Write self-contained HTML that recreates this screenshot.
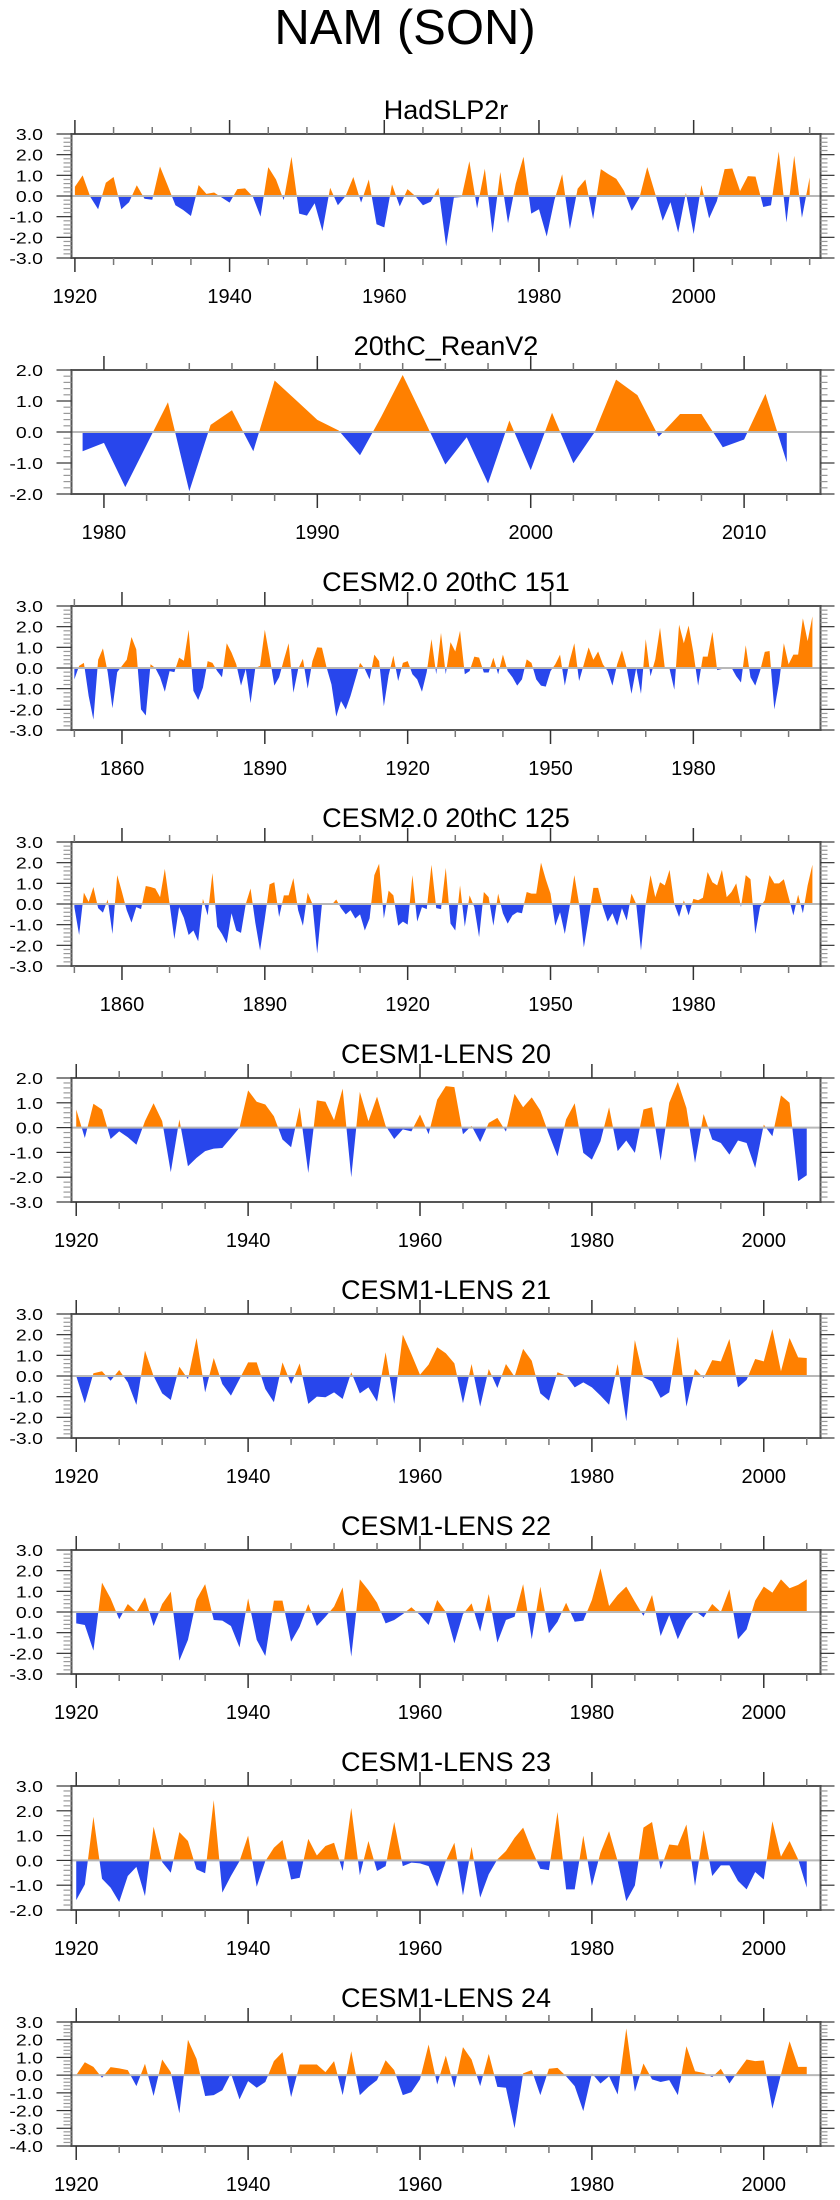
<!DOCTYPE html>
<html><head><meta charset="utf-8"><title>NAM (SON)</title>
<style>
html,body{margin:0;padding:0;background:#fff;}
svg{display:block;font-family:"Liberation Sans",Arial,sans-serif;}
</style></head>
<body>
<svg id="chart" width="840" height="2200" viewBox="0 0 840 2200" xmlns="http://www.w3.org/2000/svg">
<text x="405" y="44" font-size="49" text-anchor="middle" fill="#000">NAM (SON)</text>
</svg>
<script>
const titles = ["HadSLP2r","20thC_ReanV2","CESM2.0 20thC 151","CESM2.0 20thC 125","CESM1-LENS 20","CESM1-LENS 21","CESM1-LENS 22","CESM1-LENS 23","CESM1-LENS 24"];
const startYears = [1920,1979,1850,1850,1920,1920,1920,1920,1920];
const v1 = [0.45,1.0,-0.05,-0.64,0.64,0.92,-0.64,-0.3,0.52,-0.13,-0.18,1.43,0.5,-0.45,-0.68,-0.97,0.53,0.1,0.17,-0.08,-0.32,0.33,0.37,-0.03,-1.0,1.4,0.8,-0.2,1.9,-0.85,-0.95,-0.35,-1.7,0.4,-0.45,0.0,0.92,-0.32,0.8,-1.37,-1.52,0.56,-0.5,0.33,0.0,-0.45,-0.28,0.4,-2.44,-0.08,-0.05,1.68,-0.6,1.32,-1.8,1.16,-1.32,0.6,1.9,-0.85,-0.64,-1.96,-0.2,1.05,-1.6,0.35,0.8,-1.12,1.3,1.05,0.83,0.25,-0.72,-0.08,1.4,0.15,-1.2,-0.3,-1.77,0.15,-1.84,0.53,-1.08,-0.25,1.3,1.33,0.24,0.96,0.94,-0.53,-0.45,2.15,-1.28,1.95,-1.05,0.9];
const v2 = [-0.62,-0.35,-1.78,-0.41,0.96,-1.91,0.23,0.7,-0.62,1.66,1.03,0.39,0.05,-0.75,0.5,1.84,0.41,-1.05,-0.17,-1.66,0.37,-1.23,0.62,-1.01,0.0,1.69,1.19,-0.15,0.58,0.58,-0.49,-0.24,1.23,-0.98];
const v3 = [-0.55,0.1,0.25,-1.35,-2.5,0.4,0.95,-0.2,-1.95,-0.2,0.1,0.4,1.5,0.9,-2.0,-2.3,0.18,0,-0.45,-1.15,-0.15,-0.2,0.5,0.35,1.85,-1.1,-1.55,-0.95,0.33,0.25,-0.15,-0.45,1.2,0.75,0.18,-0.85,-0.05,-1.7,0,0.1,1.85,0.55,-0.85,-0.45,0.4,1.2,-1.2,-0.05,0.45,-1.0,0.33,1.0,0.98,0,-0.8,-2.35,-1.6,-2.0,-1.35,-0.55,0.25,-0.05,-0.55,0.65,0.33,-1.85,-0.35,0.6,-0.63,0.25,0.33,-0.3,-0.55,-1.15,-0.2,1.4,-0.3,1.7,-0.3,1.25,0.8,1.8,-0.3,-0.15,0.55,0.5,-0.22,-0.22,0.5,-0.3,0.65,-0.15,-0.45,-0.85,-0.55,0.42,0.25,-0.55,-0.85,-0.9,-0.15,0.18,0.65,-0.85,0.33,1.2,-0.63,0.18,1.0,0.4,0.8,0.18,-0.15,-0.85,0.18,0.85,0,-1.25,0,-1.25,1.4,-0.4,0.42,1.95,0,-0.05,-1.05,2.1,1.2,2.05,0.75,-0.85,0.55,0.55,1.75,-0.1,-0.05,0.02,0.02,-0.4,-0.7,1.1,-0.45,-0.85,-0.15,0.78,0.82,-2.0,-0.7,1.2,0.18,0.65,0.65,2.4,1.3,2.5];
const v4 = [-0.15,-1.5,0.55,0.1,0.82,-0.2,-0.42,0.22,-1.45,1.4,0.58,-0.3,-0.9,-0.15,-0.25,0.87,0.82,0.75,0.33,1.7,0,-1.7,-0.15,-0.67,-1.5,-1.28,-1.8,0.25,-0.55,1.5,-1.1,-1.45,-1.9,-0.45,-1.28,-1.4,0.0,0.75,-0.9,-2.25,-0.7,0.95,1.05,-0.63,0.42,0.42,1.25,-0.3,-1.05,0.55,0.0,-2.4,0,0.0,-0.05,0.22,-0.2,-0.5,-0.3,-0.7,-0.5,-1.28,-0.7,1.4,1.95,-0.7,0.65,0.42,-1.05,-0.85,-1.0,1.4,-0.85,-0.15,-0.25,1.9,-0.2,-0.25,1.75,-0.95,-1.28,0.9,-1.1,0.42,-0.15,-1.6,0.58,0.33,-1.05,0.5,-0.45,-0.95,-0.55,-0.4,-0.45,0.58,0.5,0.5,2.0,1.2,0.5,-1.05,-0.4,-1.45,-0.15,1.4,0,-2.1,-0.7,0.78,0.78,-0.15,-0.85,-0.45,-1.05,-0.2,-0.8,0.5,0,-2.25,0,1.4,0.33,1.05,0.9,1.65,0,-0.63,0.18,-0.55,0.25,0.18,0.3,1.55,1.05,0.9,1.65,0.33,0.58,1.0,-0.15,1.4,1.2,-1.45,-0.15,0.18,1.4,1.0,1.0,1.2,0.33,-0.55,0.45,-0.45,0.9,1.9];
const v5 = [0.73,-0.42,0.96,0.73,-0.46,-0.15,-0.39,-0.69,0.26,0.98,0.26,-1.8,0.33,-1.56,-1.22,-0.95,-0.85,-0.82,-0.42,0,1.5,1.04,0.93,0.46,-0.48,-0.79,0.82,-1.83,1.1,1.04,0.3,1.57,-2.0,1.44,0.26,1.25,0.07,-0.46,-0.07,-0.15,0.53,-0.27,1.13,1.67,1.63,-0.27,0.07,-0.58,0.19,0.39,-0.16,1.36,0.82,1.22,0.69,-0.27,-1.16,0.33,0.98,-1.02,-1.29,-0.55,0.82,-0.95,-0.52,-1.02,0.73,0.82,-1.33,1.0,1.84,0.79,-1.42,0.55,-0.48,-0.62,-1.09,-0.52,-0.62,-1.63,0.12,-0.35,1.3,1.0,-2.16,-1.92];
const v6 = [0,-1.32,0.13,0.23,-0.23,0.29,-0.31,-1.4,1.23,0,-0.84,-1.16,0.45,-0.15,1.84,-0.79,0.87,-0.39,-0.95,-0.15,0.66,0.66,-0.63,-1.27,0.66,-0.39,0.61,-1.35,-1.0,-1.03,-0.79,-1.11,0.18,-0.84,-0.55,-1.24,1.15,-1.35,2.0,1.06,0.06,0.55,1.39,1.1,0.61,-1.32,0.58,-1.48,0.34,-0.58,0.58,-0.03,1.31,0.74,-0.84,-1.19,0.18,0.02,-0.55,-0.31,-0.55,-0.95,-1.39,0.58,-2.19,1.74,-0.06,-0.26,-1.06,-0.79,1.9,-1.48,0.34,-0.1,0.77,0.71,1.79,-0.55,-0.19,0.82,0.71,2.27,0.23,1.84,0.9,0.87];
const v7 = [-0.55,-0.63,-1.87,1.42,0.66,-0.35,0.39,0,0.71,-0.68,0.39,0.98,-2.35,-1.35,0.61,1.35,-0.39,-0.42,-0.68,-1.71,0.66,-1.35,-2.13,0.55,0.55,-1.44,-0.71,0.39,-0.68,-0.23,0.26,1.19,-2.16,1.58,1.06,0.45,-0.55,-0.39,-0.1,0.23,-0.15,-0.63,0.58,0,-1.52,-0.1,0.42,-0.95,0.87,-1.48,-0.39,-0.23,1.35,-1.32,1.23,-1.03,-0.47,0.45,-0.47,-0.42,0.58,2.11,0.29,0.82,1.23,0.5,-0.19,0.82,-1.16,-0.15,-1.32,-0.42,0.06,-0.26,0.39,0,1.1,-1.32,-0.84,0.55,1.23,0.94,1.58,1.15,1.31,1.58];
const v8 = [-1.6,-0.97,1.76,-0.74,-1.1,-1.68,-0.63,-0.26,-1.44,1.36,-0.07,-0.5,1.14,0.78,-0.36,-0.52,2.43,-1.3,-0.63,-0.03,1.0,-1.06,-0.03,0.51,0.82,-0.77,-0.7,0.87,0.2,0.58,0.71,-0.43,2.12,-0.6,0.78,-0.43,-0.23,1.55,-0.23,-0.09,-0.12,-0.23,-1.06,-0.03,0.71,-1.41,0.55,-1.5,-0.56,0.04,0.38,0.91,1.32,0.44,-0.34,-0.39,1.95,-1.17,-1.17,1.0,-1.03,0.31,1.18,-0.03,-1.64,-1.01,1.32,1.55,-0.36,0.64,0.6,1.45,-1.03,1.22,-0.63,-0.2,-0.2,-0.83,-1.17,-0.47,-0.77,1.58,0.15,0.78,0.04,-1.1];
const v9 = [0,0.73,0.47,-0.15,0.45,0.38,0.28,-0.62,0.64,-1.18,0.88,0.17,-2.16,2.0,0.92,-1.18,-1.13,-0.85,0.1,-1.37,-0.34,-0.71,-0.39,0.79,1.3,-1.24,0.6,0.6,0.6,0.17,0.79,-1.13,1.35,-1.13,-0.66,-0.28,0.84,0.28,-1.13,-0.96,-0.24,1.73,-0.53,1.1,-0.71,1.58,0.88,-0.62,1.2,-0.66,-0.71,-3.0,0.1,0.28,-1.13,0.36,0.41,-0.06,-0.62,-2.03,0.1,-0.47,-0.06,-1.09,2.63,-0.94,0.66,-0.24,-0.39,-0.28,-1.13,1.63,0.22,0.13,-0.11,0.36,-0.47,0.22,0.88,0.79,0.83,-1.9,0.04,1.91,0.47,0.47];
const series = [v1,v2,v3,v4,v5,v6,v7,v8,v9];
const yMins = [-3,-2,-3,-3,-3,-3,-3,-2,-4];
const yMaxs = [3,2,3,3,2,3,3,3,3];

// layout (not data)
const xRanges = [[1919.56,2016.4],[1978.48,2013.58],[1849.4,2006.7],[1849.4,2006.7],[1919.45,2006.6],[1919.45,2006.6],[1919.45,2006.6],[1919.45,2006.6],[1919.45,2006.6]];
const majorStep = [20,10,30,30,20,20,20,20,20];
const minorStep = [5,2,10,10,5,5,5,5,5];
const majorStart = [1920,1980,1860,1860,1920,1920,1920,1920,1920];
const minorStart = [1920,1978,1850,1850,1920,1920,1920,1920,1920];

const NS = "http://www.w3.org/2000/svg";
const svg = document.getElementById('chart');
const L = 71.5, R = 820.5, H = 124;
function mk(tag, attrs, parent){ const e=document.createElementNS(NS,tag); for(const k in attrs) e.setAttribute(k,attrs[k]); (parent||svg).appendChild(e); return e; }

series.forEach((vals, p) => {
  const top = 134 + 236*p, bot = top + H;
  const x0 = xRanges[p][0], x1 = xRanges[p][1];
  const ymin = yMins[p], ymax = yMaxs[p];
  const xs = yr => L + (yr - x0) / (x1 - x0) * (R - L);
  const ys = v => bot - (v - ymin) / (ymax - ymin) * H;
  const g = mk('g', {});
  
  

  const t = mk('text', {x:(L+R)/2, y: top-15, 'font-size':27, 'text-anchor':'middle', fill:'#000'}, g);
  
  
  t.textContent = titles[p];

  // area fills
  const y0 = ys(0);
  let d = 'M' + xs(startYears[p]) + ',' + y0;
  vals.forEach((v,i) => { d += ' L' + xs(startYears[p]+i).toFixed(2) + ',' + ys(v).toFixed(2); });
  d += ' L' + xs(startYears[p]+vals.length-1) + ',' + y0 + ' Z';
  const cpA = mk('clipPath', {id:'ca'+p}, g); mk('rect', {x:L, y:top, width:R-L, height:y0-top}, cpA);
  const cpB = mk('clipPath', {id:'cb'+p}, g); mk('rect', {x:L, y:y0, width:R-L, height:bot-y0}, cpB);
  const pos = mk('path', {d:d, fill:'#ff8000', 'clip-path':'url(#ca'+p+')'}, g);
  
  
  const neg = mk('path', {d:d, fill:'#2846ec', 'clip-path':'url(#cb'+p+')'}, g);
  
  
  const zl = mk('line', {x1:L, x2:R, y1:y0, y2:y0, stroke:'#b8b8b8', 'stroke-width':2}, g);
  
  

  // frame
  const fr = mk('rect', {x:L, y:top, width:R-L, height:H, fill:'none', stroke:'#555', 'stroke-width':2}, g);
  
  

  // x ticks
  for (let yr = minorStart[p]; yr <= x1; yr += minorStep[p]) {
    if (yr < x0) continue;
    const x = xs(yr);
    const major = ((yr - majorStart[p]) % majorStep[p] === 0) && yr >= majorStart[p];
    const len = major ? 14 : 7;
    mk('line', {x1:x, x2:x, y1:top, y2:top-len, stroke: major?'#333':'#777', 'stroke-width':1.5}, g);
    mk('line', {x1:x, x2:x, y1:bot, y2:bot+len, stroke: major?'#333':'#777', 'stroke-width':1.5}, g);
    if (major) {
      const lb = mk('text', {x:x, y:bot+45, 'font-size':20, 'text-anchor':'middle', fill:'#000'}, g);
      
      
      lb.textContent = yr;
    }
  }
  // y ticks
  for (let k = 0; k <= (ymax-ymin)*5; k++) {
    const v = ymin + k*0.2;
    const y = ys(v);
    const major = k % 5 === 0;
    mk('line', {x1:L, x2:L-(major?15:8), y1:y, y2:y, stroke: major?'#333':'#999', 'stroke-width':1.2}, g);
    mk('line', {x1:R, x2:R+(major?14:7), y1:y, y2:y, stroke: major?'#333':'#999', 'stroke-width':1.2}, g);
    if (major) {
      const lb = mk('text', {x:43, y:y+6, 'font-size':16, 'text-anchor':'end', fill:'#000', transform:'translate(43,0) scale(1.22,1) translate(-43,0)'}, g);
      
      
      lb.textContent = (Math.round(v)).toFixed(1);
    }
  }
});
</script>
</body></html>
